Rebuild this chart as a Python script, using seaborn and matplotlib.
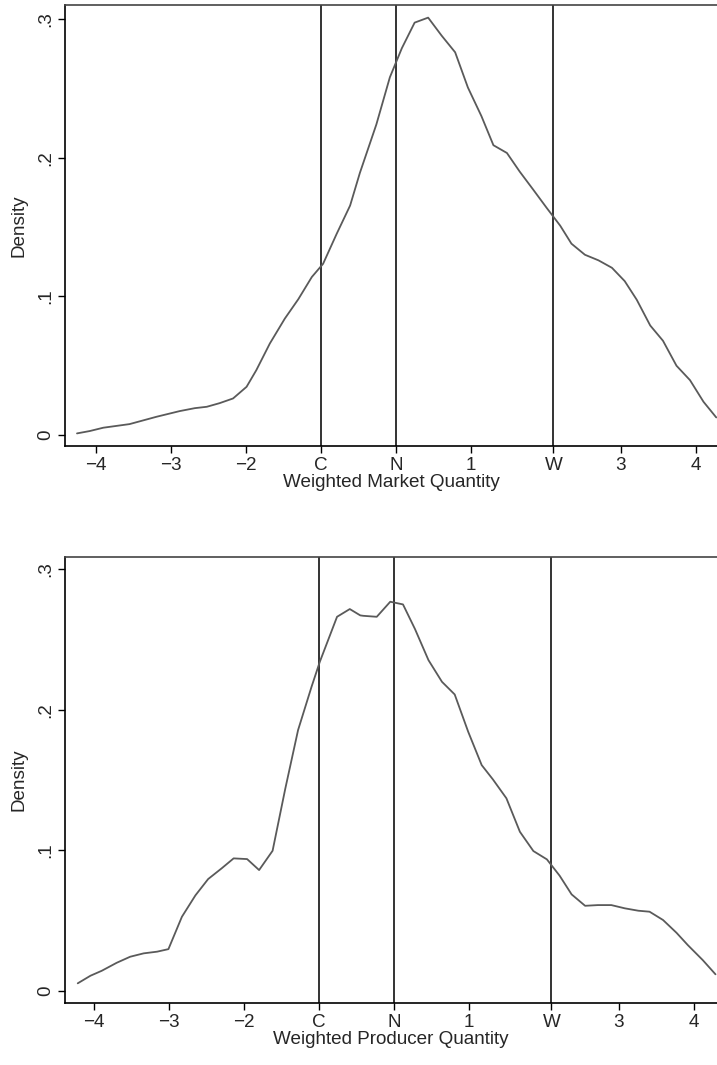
import numpy as np
import pandas as pd
import seaborn as sns
import matplotlib.pyplot as plt

sns.set_style("ticks")
plt.rcParams['font.family'] = ['Liberation Sans', 'DejaVu Sans']

# 上图：Weighted Market Quantity 的密度
market_x = [-4.25, -4.08, -3.90, -3.55, -3.19, -2.88, -2.68, -2.52, -2.35, -2.17,
            -1.99, -1.86, -1.68, -1.48, -1.30, -1.12, -0.97, -0.79, -0.61, -0.48,
            -0.26, -0.08, 0.08, 0.25, 0.43, 0.61, 0.79, 0.96, 1.14, 1.30,
            1.48, 1.65, 1.83, 2.01, 2.19, 2.34, 2.52, 2.70, 2.88, 3.05,
            3.21, 3.39, 3.56, 3.74, 3.92, 4.10, 4.27]
market_y = [0.0012, 0.0029, 0.0053, 0.0079, 0.0132, 0.0173, 0.0194, 0.0204, 0.0230, 0.0264,
            0.0348, 0.0468, 0.0660, 0.0840, 0.0980, 0.1140, 0.1235, 0.1450, 0.1655, 0.1890,
            0.2240, 0.2580, 0.2790, 0.2974, 0.3010, 0.2880, 0.2760, 0.2506, 0.2300, 0.2090,
            0.2034, 0.1900, 0.1770, 0.1638, 0.1510, 0.1380, 0.1300, 0.1260, 0.1206, 0.1110,
            0.0976, 0.0790, 0.0680, 0.0500, 0.0396, 0.0240, 0.0127]

# 下图：Weighted Producer Quantity 的密度
producer_x = [-4.22, -4.05, -3.90, -3.70, -3.52, -3.34, -3.16, -3.01, -2.83, -2.65,
              -2.48, -2.30, -2.14, -1.96, -1.80, -1.62, -1.45, -1.28, -1.10, -0.99,
              -0.76, -0.59, -0.45, -0.41, -0.23, -0.05, 0.12, 0.28, 0.46, 0.64,
              0.81, 0.99, 1.17, 1.32, 1.50, 1.68, 1.86, 2.04, 2.21, 2.37,
              2.55, 2.72, 2.90, 3.08, 3.26, 3.41, 3.59, 3.77, 3.92, 4.12, 4.29]
producer_y = [0.0055, 0.0109, 0.0144, 0.0201, 0.0244, 0.0268, 0.0280, 0.0298, 0.0528, 0.0680,
              0.0796, 0.0872, 0.0943, 0.0938, 0.0860, 0.0997, 0.1440, 0.1855, 0.2163, 0.2340,
              0.2660, 0.2715, 0.2670, 0.2667, 0.2660, 0.2767, 0.2748, 0.2573, 0.2352, 0.2198,
              0.2108, 0.1843, 0.1606, 0.1504, 0.1370, 0.1132, 0.0995, 0.0936, 0.0820, 0.0687,
              0.0606, 0.0611, 0.0611, 0.0588, 0.0571, 0.0564, 0.0505, 0.0414, 0.0327, 0.0220, 0.0119]

# 参考线位置 C / N / W
ref_pos = [-1.0, 0.0, 2.1]
xtick_pos = [-4, -3, -2, -1.0, 0.0, 1, 2.1, 3, 4]
xtick_labels = ['\u22124', '\u22123', '\u22122', 'C', 'N', '1', 'W', '3', '4']
ytick_pos = [0, 0.1, 0.2, 0.3]
ytick_labels = ['0', '.1', '.2', '.3']

FS = 13.6

fig = plt.figure(figsize=(7.17, 10.65), dpi=100)
ax1 = fig.add_axes([65 / 717, 0.5812, 652 / 717, 0.4141])
ax2 = fig.add_axes([65 / 717, 0.0582, 652 / 717, 0.4188])

panels = [
    (ax1, market_x, market_y, "Weighted Market Quantity", (-4.41, 4.28), (-0.0079, 0.3101)),
    (ax2, producer_x, producer_y, "Weighted Producer Quantity", (-4.39, 4.31), (-0.0085, 0.3085)),
]

for ax, xs, ys, xlabel, xlim, ylim in panels:
    df = pd.DataFrame({"x": xs, "y": ys})
    for p in ref_pos:
        ax.axvline(p, color="#333333", lw=1.4, zorder=1)
    sns.lineplot(data=df, x="x", y="y", ax=ax, color="#5a5a5a", lw=1.3, sort=False, zorder=2)
    ax.set_xlim(*xlim)
    ax.set_ylim(*ylim)
    ax.set_xticks(xtick_pos)
    ax.set_xticklabels(xtick_labels, fontsize=FS)
    ax.set_yticks(ytick_pos)
    ax.set_yticklabels(ytick_labels, fontsize=FS, rotation=90, va="center")
    ax.set_xlabel(xlabel, fontsize=FS, labelpad=0)
    ax.set_ylabel("Density", fontsize=FS, labelpad=7)
    ax.tick_params(axis="both", direction="out", length=5, width=1, color="black", pad=3)
    ax.spines["right"].set_visible(False)
    for s in ["left", "bottom"]:
        ax.spines[s].set_color("black")
        ax.spines[s].set_linewidth(1.2)
    ax.spines["top"].set_color("#444444")
    ax.spines["top"].set_linewidth(1.2)

fig.savefig("out.png", dpi=100)
